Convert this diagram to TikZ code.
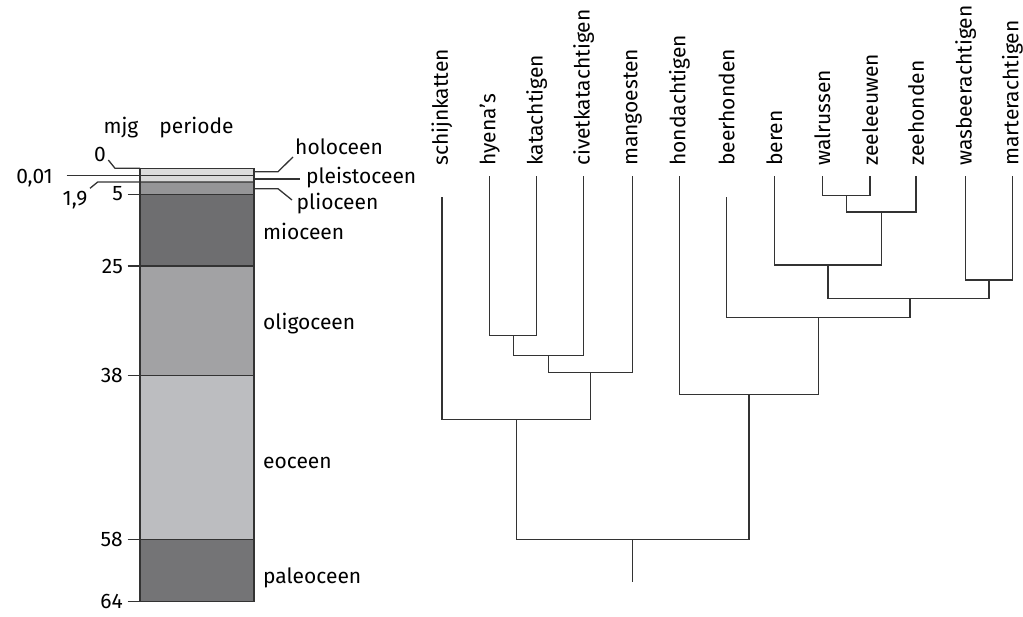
\documentclass[tikz,border=0pt]{standalone}
\usepackage{fontspec}
\setmainfont{Fira Sans}
\begin{document}
\begin{tikzpicture}[x=1pt,y=-1pt,
  lbl/.style={font=\fontsize{21}{25}\selectfont, inner sep=0pt},
  tip/.style={lbl, rotate=90, anchor=west},
  ln/.style={line width=1.3pt, draw=black!80},
  lnk/.style={line width=1.3pt, draw=black!80, line join=miter}]
\useasboundingbox (0,0) rectangle (1023,617);
\definecolor{chol}{HTML}{DCDCDC}
\definecolor{cple}{HTML}{D9D9D9}
\definecolor{cpli}{HTML}{959597}
\definecolor{cmio}{HTML}{6E6E70}
\definecolor{coli}{HTML}{A2A2A4}
\definecolor{ceoc}{HTML}{BCBDC0}
\definecolor{cpal}{HTML}{747476}
% ---- time column
\fill[chol] (140,168.3) rectangle (254,175.5);
\fill[cple] (140,175.5) rectangle (254,182);
\fill[cpli] (140,182) rectangle (254,194.7);
\fill[cmio] (140,194.7) rectangle (254,266);
\fill[coli] (140,266) rectangle (254,375.3);
\fill[ceoc] (140,375.3) rectangle (254,539.3);
\fill[cpal] (140,539.3) rectangle (254,601.7);
\draw[ln] (140,168.3) rectangle (254,601.7);
% left ticks and leaders
\draw[ln] (108.3,160) -- (115,168.3) -- (140,168.3);
\draw[ln] (66.7,175.5) -- (254,175.5);
\draw[ln] (90,188.3) -- (97.7,182) -- (254,182);
\draw[ln] (127.7,194.7) -- (254,194.7);
\draw[ln] (127.7,266) -- (254,266);
\draw[ln] (127.7,375.3) -- (254,375.3);
\draw[ln] (127.7,539.3) -- (254,539.3);
\draw[ln] (127.7,601.7) -- (140,601.7);
% right leaders
\draw[ln] (254,171.7) -- (278,171.7) -- (293,157);
\draw[ln] (254,179) -- (300,179);
\draw[ln] (254,188.7) -- (278,188.7) -- (292,200);
% labels
\node[lbl, anchor=base] (mjg) at (121,133.3) {mjg};
\node[lbl, anchor=base] (per) at (196.5,133.3) {periode};
\node[lbl, anchor=base] (t0) at (100,161.7) {0};
\node[lbl, anchor=base east] (t001) at (53,183.3) {0,01};
\node[lbl, anchor=base east] (t19) at (87.5,205.5) {1,9};
\node[lbl, anchor=base east] (t5) at (123,201) {5};
\node[lbl, anchor=east] (t25) at (123,266) {25};
\node[lbl, anchor=east] (t38) at (123,375.3) {38};
\node[lbl, anchor=east] (t58) at (123,539.3) {58};
\node[lbl, anchor=east] (t64) at (123,601.7) {64};
\node[lbl, anchor=base west] (hol) at (295,155) {holoceen};
\node[lbl, anchor=base west] (ple) at (306,183.3) {pleistoceen};
\node[lbl, anchor=base west] (pli) at (296.5,210) {plioceen};
\node[lbl, anchor=base west] (mio) at (263,240) {mioceen};
\node[lbl, anchor=base west] (oli) at (263,330) {oligoceen};
\node[lbl, anchor=base west] (eoc) at (263,468) {eoceen};
\node[lbl, anchor=base west] (pal) at (263,583) {paleoceen};
% ---- tree tip labels
\node[tip] (lsch) at (442,166) {schijnkatten};
\node[tip] (lhye) at (489.7,166) {hyena’s};
\node[tip] (lkat) at (536.7,166) {katachtigen};
\node[tip] (lciv) at (583.7,166) {civetkatachtigen};
\node[tip] (lman) at (632.7,166) {mangoesten};
\node[tip] (lhon) at (679.3,166) {hondachtigen};
\node[tip] (lbee) at (726.7,166) {beerhonden};
\node[tip] (lber) at (774.3,166) {beren};
\node[tip] (lwal) at (822.3,166) {walrussen};
\node[tip] (lzee) at (870,166) {zeeleeuwen};
\node[tip] (lzeh) at (916,166) {zeehonden};
\node[tip] (lwas) at (965.7,166) {wasbeerachtigen};
\node[tip] (lmar) at (1012.3,166) {marterachtigen};
% tip tops
\coordinate (sch) at (442,197.3);
\coordinate (hye) at (489.7,176.5);
\coordinate (kat) at (536.7,176.5);
\coordinate (civ) at (583.7,176.5);
\coordinate (man) at (632.7,176.5);
\coordinate (hon) at (679.3,176.5);
\coordinate (bee) at (726.7,197.3);
\coordinate (ber) at (774.3,176.5);
\coordinate (wal) at (822.3,176.5);
\coordinate (zee) at (870,176.5);
\coordinate (zeh) at (916,176.5);
\coordinate (was) at (965.7,176.5);
\coordinate (mar) at (1012.3,176.5);
% internal nodes
\coordinate (n1) at (513.2,335.7);
\coordinate (n2) at (548.5,355.7);
\coordinate (n3) at (590.7,372.7);
\coordinate (n4) at (516.3,419.3);
\coordinate (n5) at (846.2,195.3);
\coordinate (n6) at (881.5,212);
\coordinate (n7) at (828,265);
\coordinate (n8) at (989,280);
\coordinate (n9) at (910,298.3);
\coordinate (n10) at (818.5,317.7);
\coordinate (n11) at (749,394.3);
\coordinate (n12) at (632.7,539.3);
\coordinate (root) at (632.7,582.3);
% branches
\draw[lnk] (hye) |- (n1) -| (kat);
\draw[lnk] (n1) |- (n2) -| (civ);
\draw[lnk] (n2) |- (n3) -| (man);
\draw[lnk] (sch) |- (n4) -| (n3);
\draw[lnk] (wal) |- (n5) -| (zee);
\draw[lnk] (n5) |- (n6) -| (zeh);
\draw[lnk] (ber) |- (n7) -| (n6);
\draw[lnk] (was) |- (n8) -| (mar);
\draw[lnk] (n7) |- (n9) -| (n8);
\draw[lnk] (bee) |- (n10) -| (n9);
\draw[lnk] (hon) |- (n11) -| (n10);
\draw[lnk] (n4) |- (n12) -| (n11);
\draw[lnk] (n12) -- (root);
\end{tikzpicture}
\end{document}
